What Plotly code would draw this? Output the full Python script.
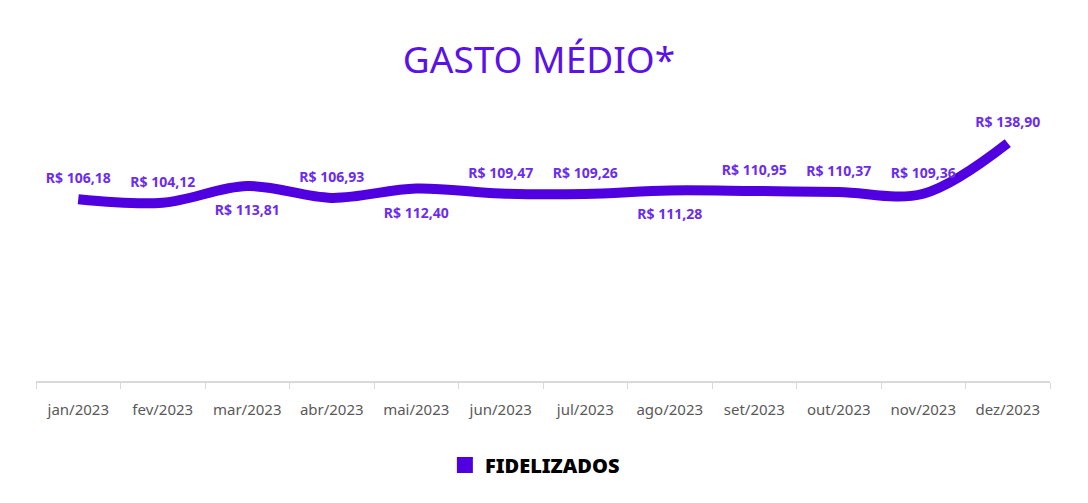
import plotly.graph_objects as go

# dados do gráfico =======
meses = ["jan/2023", "fev/2023", "mar/2023", "abr/2023", "mai/2023", "jun/2023",
         "jul/2023", "ago/2023", "set/2023", "out/2023", "nov/2023", "dez/2023"]
gasto_medio = [106.18, 104.12, 113.81, 106.93, 112.40, 109.47,
               109.26, 111.28, 110.95, 110.37, 109.36, 138.90]
posicao_rotulo = ["top center", "top center", "bottom center", "top center",
                  "bottom center", "top center", "top center", "bottom center",
                  "top center", "top center", "top center", "top center"]

roxo = "#5000e0"
rotulos = ["R$ " + f"{v:.2f}".replace(".", ",") for v in gasto_medio]
# marcadores invisíveis: o tamanho define a distância do rótulo até a linha
afastamento = [18 if p.startswith("top") else 28 for p in posicao_rotulo]

fig = go.Figure()

# linha principal
fig.add_trace(go.Scatter(
    x=meses, y=gasto_medio,
    mode="lines+markers+text",
    line=dict(color=roxo, width=10, shape="spline", smoothing=1.0),
    marker=dict(size=afastamento, opacity=0),
    text=rotulos,
    textposition=posicao_rotulo,
    textfont=dict(family="Noto Sans", size=14, color="#6a2cf0", weight="bold"),
    showlegend=False,
    cliponaxis=False,
))

# item de legenda (quadrado)
fig.add_trace(go.Scatter(
    x=[None], y=[None], mode="markers",
    marker=dict(symbol="square", size=24, color=roxo),
    name="FIDELIZADOS",
))

fig.update_layout(
    width=1088, height=503,
    paper_bgcolor="white", plot_bgcolor="white",
    margin=dict(l=28, r=46, t=99, b=130),
    title=dict(text="GASTO MÉDIO*", x=0.488, xanchor="center", y=0.897, yanchor="middle",
               font=dict(family="Noto Sans", size=37, color="#5a12e8")),
    legend=dict(orientation="h", x=0.492, xanchor="center", y=-0.307, yanchor="middle",
                font=dict(family="Noto Sans", size=20, color="black", weight=900),
                itemsizing="trace"),
)

fig.update_xaxes(
    type="category", range=[-0.5, 11.5],
    showline=True, linecolor="#d9d9d9", linewidth=1.5,
    ticks="outside", tickson="boundaries", ticklen=6, tickcolor="#d9d9d9",
    ticklabelstandoff=14,
    showgrid=False,
    tickfont=dict(family="Noto Sans", size=15, color="#595959"),
)
fig.update_yaxes(range=[0, 160], visible=False, showgrid=False)

fig.write_html("out.html")
